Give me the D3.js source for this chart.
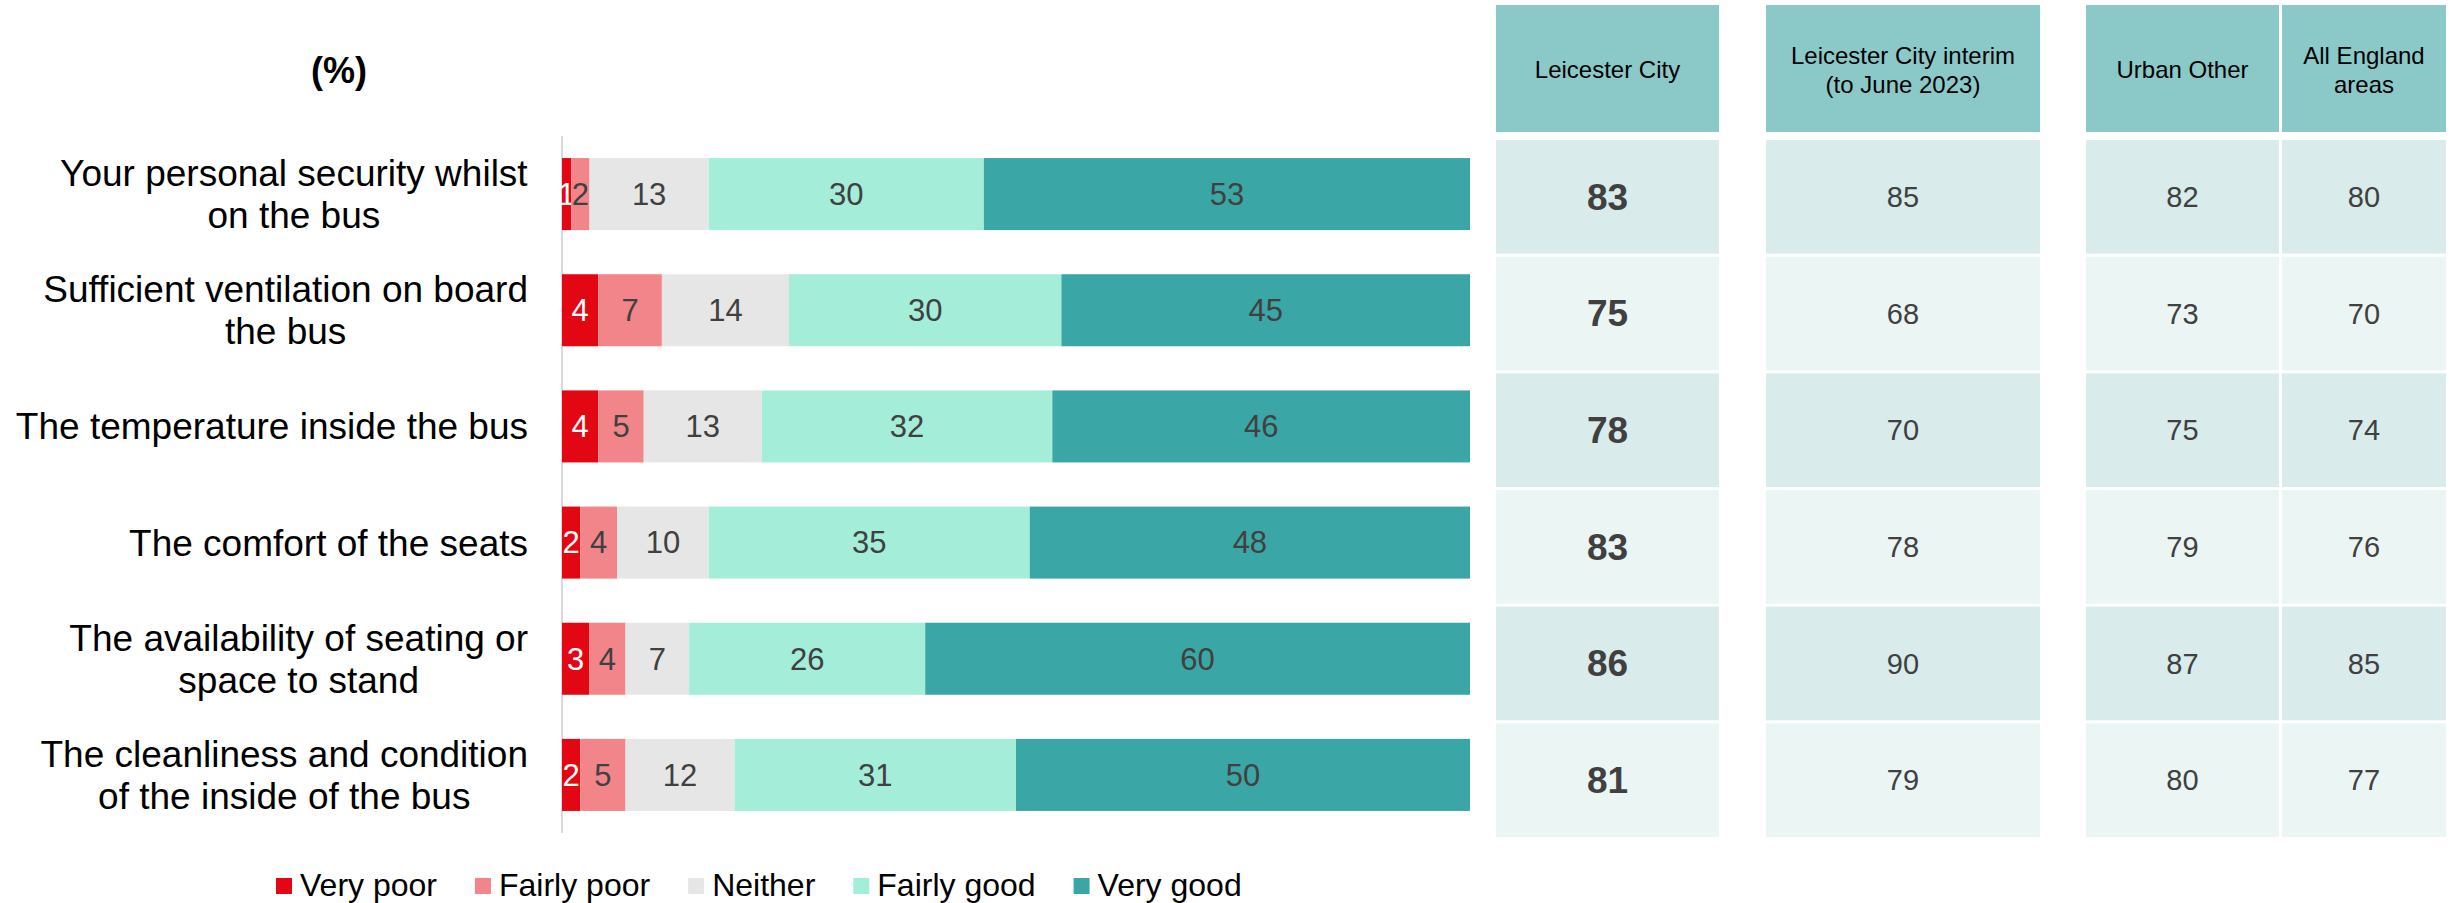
<!DOCTYPE html>
<html>
<head>
  <meta charset="utf-8">
  <title>Bus satisfaction</title>
  <style>
    body { margin: 0; background: #fff; }
    svg { display: block; font-family: "Liberation Sans", Arial, sans-serif; }
  </style>
</head>
<body>
  <svg width="2450" height="903"></svg>
  <script src="https://d3js.org/d3.v7.min.js"></script>
  <script>
    // chart data
    var categories = [
      "Your personal security whilst on the bus",
      "Sufficient ventilation on board the bus",
      "The temperature inside the bus",
      "The comfort of the seats",
      "The availability of seating or space to stand",
      "The cleanliness and condition of the inside of the bus"
    ];
    // how the labels break onto lines
    var categoryLines = [
      ["Your personal security whilst", "on the bus"],
      ["Sufficient ventilation on board", "the bus"],
      ["The temperature inside the bus"],
      ["The comfort of the seats"],
      ["The availability of seating or", "space to stand"],
      ["The cleanliness and condition", "of the inside of the bus"]
    ];
    var seriesNames = ["Very poor", "Fairly poor", "Neither", "Fairly good", "Very good"];
    var veryPoor   = [1, 4, 4, 2, 3, 2];
    var fairlyPoor = [2, 7, 5, 4, 4, 5];
    var neither    = [13, 14, 13, 10, 7, 12];
    var fairlyGood = [30, 30, 32, 35, 26, 31];
    var veryGood   = [53, 45, 46, 48, 60, 50];

    // table on the right
    var tableHeaders = [
      ["Leicester City"],
      ["Leicester City interim", "(to June 2023)"],
      ["Urban Other"],
      ["All England", "areas"]
    ];
    var leicesterCity = [83, 75, 78, 83, 86, 81];
    var leicesterInterim = [85, 68, 70, 78, 90, 79];
    var urbanOther = [82, 73, 75, 79, 87, 80];
    var allEngland = [80, 70, 74, 76, 85, 77];

    var colors = ["#e30613", "#f2858a", "#e6e6e6", "#a4edd9", "#3ba6a6"];
    var labelColors = ["#ffffff", "#404040", "#404040", "#404040", "#404040"];

    var svg = d3.select("svg");

    // one record per row, keyed by series name
    var rows = categories.map(function(c, i) {
      return {
        category: c,
        "Very poor": veryPoor[i],
        "Fairly poor": fairlyPoor[i],
        "Neither": neither[i],
        "Fairly good": fairlyGood[i],
        "Very good": veryGood[i]
      };
    });

    // bars are a 100% stack, like the original
    var stacked = d3.stack().keys(seriesNames).offset(d3.stackOffsetExpand)(rows);

    var x = d3.scaleLinear().domain([0, 1]).range([562, 1470]);
    var y = d3.scaleBand().domain(categories).range([136, 833])
      .paddingInner(0.38).paddingOuter(0.19);

    // vertical axis line
    svg.append("line")
      .attr("x1", x(0)).attr("x2", x(0))
      .attr("y1", 136).attr("y2", 833)
      .attr("stroke", "#d9d9d9").attr("stroke-width", 2);

    var layers = svg.selectAll("g.layer")
      .data(stacked)
      .enter().append("g")
      .attr("class", "layer")
      .attr("fill", function(d, i) { return colors[i]; });

    layers.selectAll("rect")
      .data(function(d) { return d; })
      .enter().append("rect")
      .attr("x", function(d) { return x(d[0]); })
      .attr("width", function(d) { return x(d[1]) - x(d[0]); })
      .attr("y", function(d) { return y(d.data.category); })
      .attr("height", y.bandwidth());

    // value labels in the segments
    layers.each(function(layer, li) {
      d3.select(this).selectAll("text")
        .data(layer)
        .enter().append("text")
        .attr("x", function(d) { return (x(d[0]) + x(d[1])) / 2; })
        .attr("y", function(d) { return y(d.data.category) + y.bandwidth() / 2; })
        .attr("dy", "0.35em")
        .attr("text-anchor", "middle")
        .attr("font-size", 31)
        .attr("fill", labelColors[li])
        .text(function(d) { return d.data[layer.key]; });
    });

    // category labels: lines centred on each other, block right-aligned
    categoryLines.forEach(function(lines, i) {
      var cy = y(categories[i]) + y.bandwidth() / 2;
      var lineH = 42;
      var t = svg.append("text")
        .attr("text-anchor", "middle")
        .attr("font-size", 37)
        .attr("fill", "#000");
      lines.forEach(function(line, j) {
        t.append("tspan")
          .attr("x", 0)
          .attr("y", (j - (lines.length - 1) / 2) * lineH)
          .attr("dy", "0.35em")
          .text(line);
      });
      var w = t.node().getBBox().width;
      t.attr("transform", "translate(" + (528 - w / 2) + "," + cy + ")");
    });

    svg.append("text")
      .attr("x", 339).attr("y", 70).attr("dy", "0.35em")
      .attr("text-anchor", "middle")
      .attr("font-size", 36).attr("font-weight", "bold")
      .text("(%)");

    // legend
    var lx = 276;
    seriesNames.forEach(function(name, i) {
      svg.append("rect")
        .attr("x", lx).attr("y", 878)
        .attr("width", 16).attr("height", 16)
        .attr("fill", colors[i]);
      var t = svg.append("text")
        .attr("x", lx + 24).attr("y", 896)
        .attr("font-size", 32)
        .attr("fill", "#000")
        .text(name);
      lx += 24 + t.node().getComputedTextLength() + 38;
    });

    // table
    var tableCols = [
      { x0: 1496, x1: 1719, values: leicesterCity, bold: true },
      { x0: 1766, x1: 2040, values: leicesterInterim, bold: false },
      { x0: 2086, x1: 2279, values: urbanOther, bold: false },
      { x0: 2282, x1: 2446, values: allEngland, bold: false }
    ];
    var ty = d3.scaleBand().domain(categories).range([138.5, 838.5])
      .paddingInner(0.026).paddingOuter(0.013);

    tableCols.forEach(function(col, ci) {
      var g = svg.append("g");
      g.append("rect")
        .attr("x", col.x0).attr("y", 5)
        .attr("width", col.x1 - col.x0).attr("height", 127)
        .attr("fill", "#8bc9c9");
      var ht = g.append("text")
        .attr("text-anchor", "middle")
        .attr("font-size", 24)
        .attr("fill", "#000");
      var hl = tableHeaders[ci];
      hl.forEach(function(line, j) {
        ht.append("tspan")
          .attr("x", (col.x0 + col.x1) / 2)
          .attr("y", 70 + (j - (hl.length - 1) / 2) * 29)
          .attr("dy", "0.35em")
          .text(line);
      });

      g.selectAll("rect.cell")
        .data(col.values)
        .enter().append("rect")
        .attr("class", "cell")
        .attr("x", col.x0)
        .attr("width", col.x1 - col.x0)
        .attr("y", function(d, i) { return ty(categories[i]); })
        .attr("height", ty.bandwidth())
        .attr("fill", function(d, i) { return i % 2 === 0 ? "#d9ebeb" : "#ebf5f4"; });

      g.selectAll("text.val")
        .data(col.values)
        .enter().append("text")
        .attr("class", "val")
        .attr("x", (col.x0 + col.x1) / 2)
        .attr("y", function(d, i) { return ty(categories[i]) + ty.bandwidth() / 2; })
        .attr("dy", "0.35em")
        .attr("text-anchor", "middle")
        .attr("font-size", col.bold ? 37 : 29)
        .attr("font-weight", col.bold ? "bold" : "normal")
        .attr("fill", "#404040")
        .text(function(d) { return d; });
    });
  </script>
</body>
</html>
